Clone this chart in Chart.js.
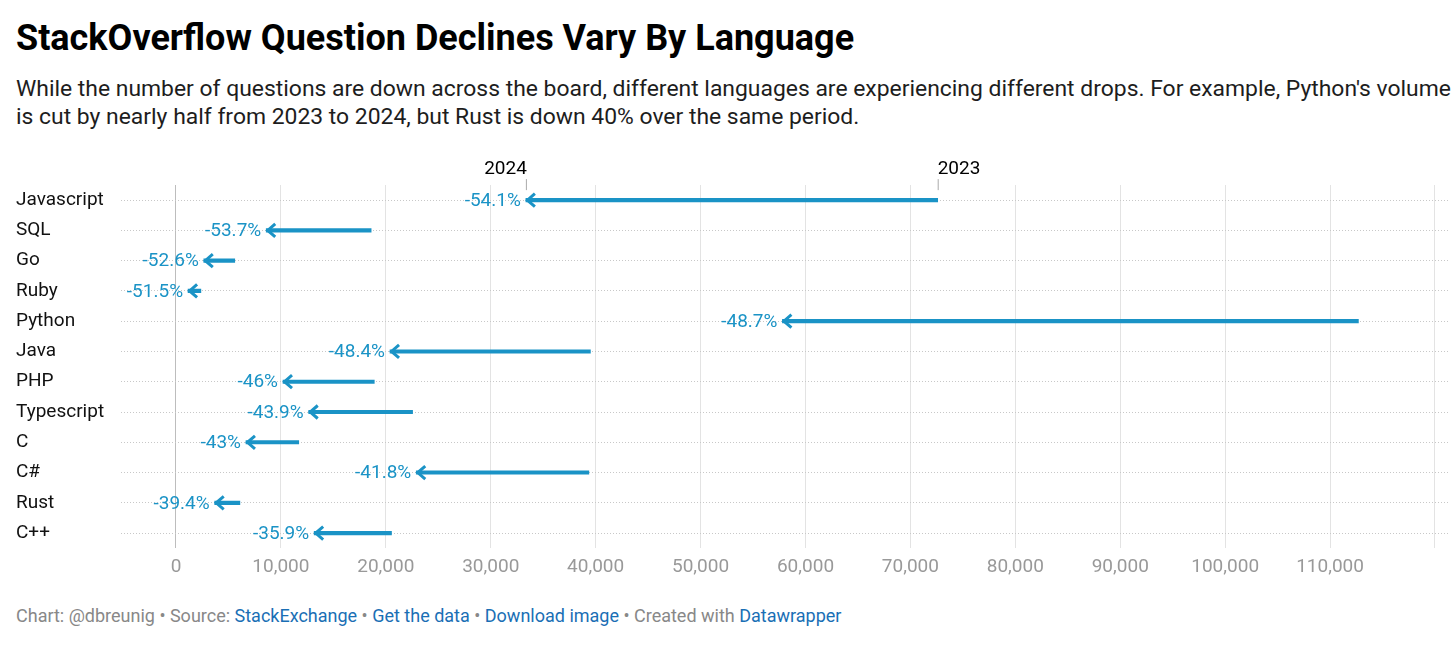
<!DOCTYPE html>
<html>
<head>
<meta charset="utf-8">
<script src="https://cdn.jsdelivr.net/npm/chart.js@4.4.1/dist/chart.umd.min.js"></script>
<style>
  body { margin: 0; background: #fff; font-family: Roboto, sans-serif; }
  #wrap { position: relative; width: 1456px; height: 652px; overflow: hidden; }
  .title { position: absolute; left: 16px; top: 18px; font-size: 36px; line-height: 40px; font-weight: 700; color: #000; white-space: nowrap; }
  .sub { position: absolute; left: 16px; top: 75px; font-size: 22.9px; line-height: 28px; color: #1d1d1d; white-space: nowrap; }
  .foot { position: absolute; left: 16px; top: 606px; font-size: 18px; line-height: 20px; color: #888; white-space: nowrap; }
  .foot a { color: #1a6fb5; text-decoration: none; }
  #box { position: absolute; left: 0; top: 140px; width: 1456px; height: 452px; }
</style>
</head>
<body>
<div id="wrap">
  <div class="title">StackOverflow Question Declines Vary By Language</div>
  <div class="sub">While the number of questions are down across the board, different languages are experiencing different drops. For example, Python's volume<br>is cut by nearly half from 2023 to 2024, but Rust is down 40% over the same period.</div>
  <div id="box"><canvas id="chart"></canvas></div>
  <div class="foot">Chart: @dbreunig • Source: <a>StackExchange</a> • <a>Get the data</a> • <a>Download image</a> • Created with <a>Datawrapper</a></div>
</div>
<script>
// languages, top to bottom
const languages = ['Javascript', 'SQL', 'Go', 'Ruby', 'Python', 'Java', 'PHP', 'Typescript', 'C', 'C#', 'Rust', 'C++']
// questions per year
const questions2023 = [72600, 18600, 5600, 2370, 112700, 39500, 18900, 22550, 11700, 39350, 6090, 20540]
const questions2024 = [33350, 8600, 2650, 1150, 57800, 20400, 10200, 12650, 6670, 22900, 3690, 13170]
const changeLabels = ['-54.1%', '-53.7%', '-52.6%', '-51.5%', '-48.7%', '-48.4%', '-46%', '-43.9%', '-43%', '-41.8%', '-39.4%', '-35.9%']
const xTicks = [0, 10000, 20000, 30000, 40000, 50000, 60000, 70000, 80000, 90000, 100000, 110000, 120000]

const blue = '#1a93c6'

// draws arrow heads, % labels and the 2023/2024 markers
const arrowPlugin = {
    id: 'arrows',
    afterDatasetsDraw(chart) {
        const ctx = chart.ctx
        const xs = chart.scales.x
        const meta = chart.getDatasetMeta(0)
        ctx.save()
        meta.data.forEach((bar, i) => {
            const tip = xs.getPixelForValue(questions2024[i])
            const y = bar.y
            ctx.strokeStyle = blue
            ctx.lineWidth = 3
            ctx.lineJoin = 'miter'
            ctx.beginPath()
            ctx.moveTo(tip + 9, y - 6.5)
            ctx.lineTo(tip + 1.5, y)
            ctx.lineTo(tip + 9, y + 6.5)
            ctx.stroke()

            ctx.fillStyle = blue
            ctx.font = '19px Roboto'
            ctx.textAlign = 'right'
            ctx.textBaseline = 'middle'
            ctx.fillText(changeLabels[i], tip - 5, y + 1)
        })

        // year markers over the first row
        const y0 = meta.data[0].y
        const x24 = xs.getPixelForValue(questions2024[0])
        const x23 = xs.getPixelForValue(questions2023[0])
        ctx.strokeStyle = '#aaa'
        ctx.lineWidth = 1
        ctx.beginPath()
        ctx.moveTo(x24 + 0.5, y0 - 21); ctx.lineTo(x24 + 0.5, y0 - 10)
        ctx.moveTo(x23 + 0.5, y0 - 21); ctx.lineTo(x23 + 0.5, y0 - 10)
        ctx.stroke()
        ctx.fillStyle = '#000'
        ctx.font = '19px Roboto'
        ctx.textBaseline = 'middle'
        ctx.textAlign = 'right'
        ctx.fillText('2024', x24 + 1, y0 - 31)
        ctx.textAlign = 'left'
        ctx.fillText('2023', x23, y0 - 31)
        ctx.restore()
    }
}

new Chart(document.getElementById('chart'), {
    type: 'bar',
    data: {
        labels: languages,
        datasets: [{
            data: questions2023.map((v, i) => [questions2024[i], v]),
            backgroundColor: blue,
            barThickness: 3.5,
            borderSkipped: false
        }]
    },
    options: {
        indexAxis: 'y',
        responsive: true,
        maintainAspectRatio: false,
        animation: false,
        layout: { padding: { top: 45, left: 16, right: 8, bottom: 5 } },
        plugins: { legend: { display: false }, tooltip: { enabled: false } },
        scales: {
            x: {
                min: -5242,
                max: 121240,
                afterBuildTicks: s => { s.ticks = xTicks.map(v => ({ value: v })) },
                grid: {
                    color: c => c.tick && c.tick.value === 0 ? '#bdbdbd' : '#e3e3e3',
                    drawTicks: false
                },
                border: { display: false },
                ticks: {
                    autoSkip: false,
                    maxRotation: 0,
                    padding: 8,
                    color: '#999',
                    font: { family: 'Roboto', size: 19 },
                    callback: v => v === 120000 ? '' : v.toLocaleString('en-US')
                }
            },
            y: {
                afterFit: s => { s.width = 105 },
                grid: { offset: false, color: '#c8c8c8', drawTicks: false },
                border: { display: false, dash: [1, 2] },
                ticks: {
                    crossAlign: 'far',
                    color: '#111',
                    font: { family: 'Roboto', size: 19 }
                }
            }
        }
    },
    plugins: [arrowPlugin]
})
</script>
</body>
</html>
